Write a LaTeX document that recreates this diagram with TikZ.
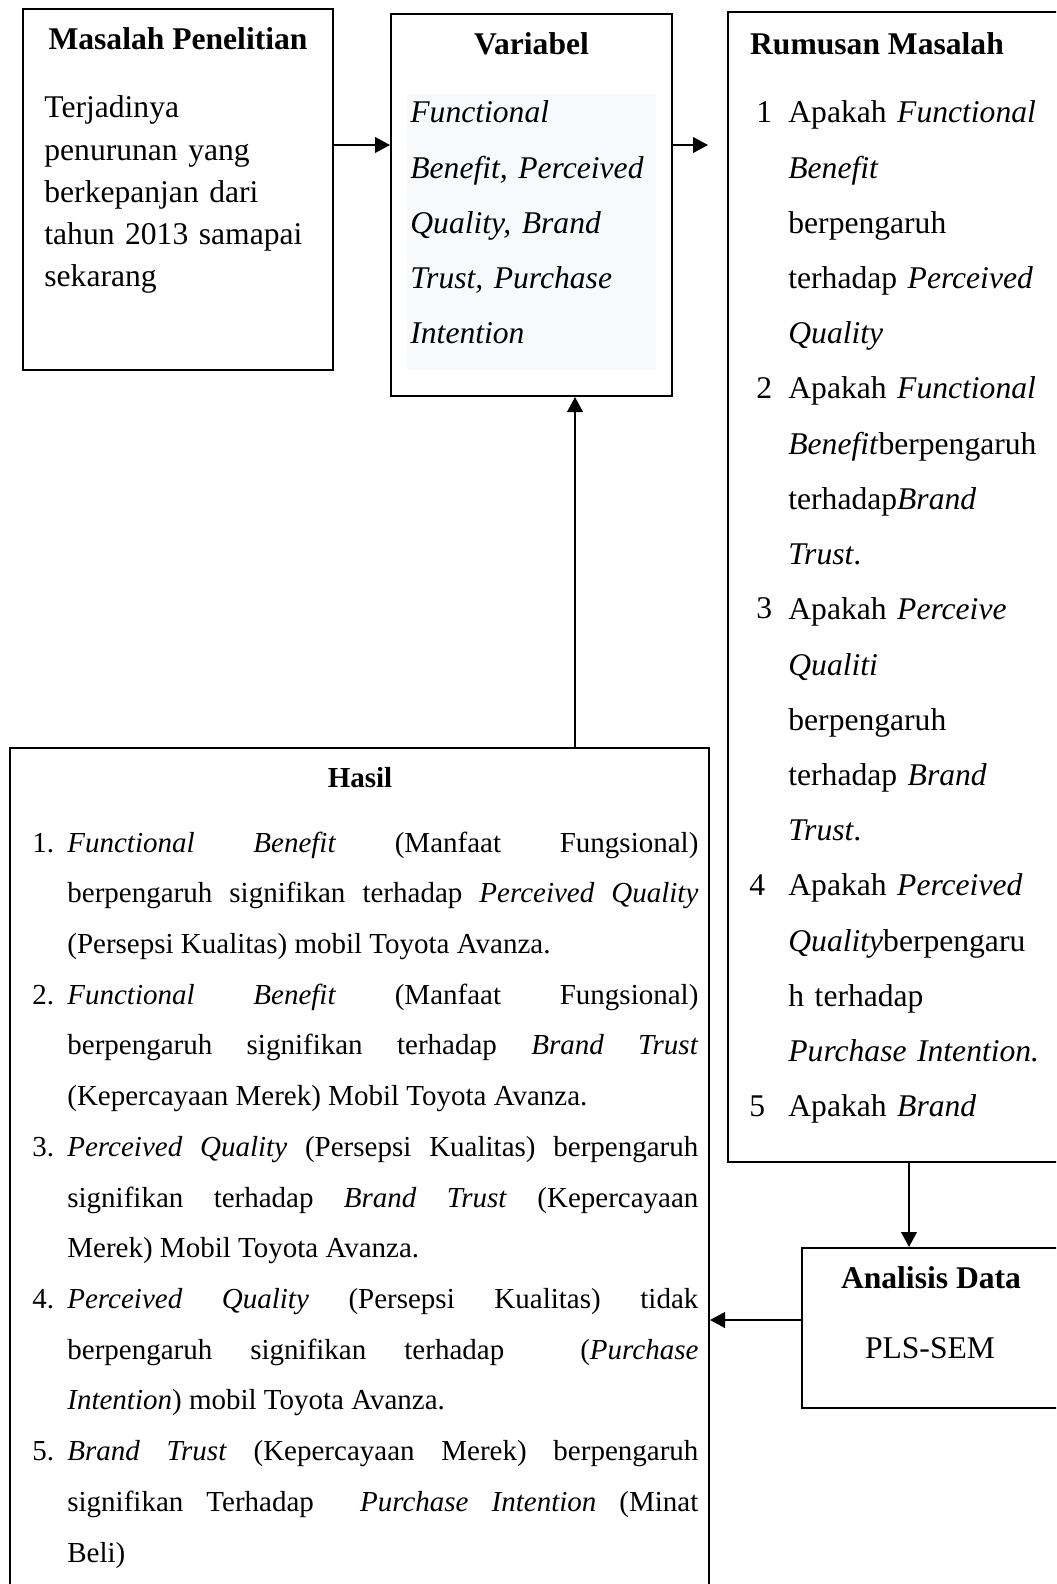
\documentclass[tikz,border=0pt]{standalone}
\usepackage{fontspec}
\setmainfont{Liberation Serif}
\usetikzlibrary{arrows.meta,fit}
\definecolor{varbg}{HTML}{F8F9FA}
\newcommand{\hasilitem}[2]{\noindent\hangindent=17.5pt\hangafter=1\makebox[17.5pt][l]{#1}#2\par}

\begin{document}
\begin{tikzpicture}[x=0.5pt,y=-0.5pt,>={Triangle[length=7.5pt,width=7.8pt]},
  box/.style={draw,line width=1pt,inner sep=0pt},
  head/.style={font=\fontsize{15.8}{19}\selectfont\bfseries,inner sep=0pt,anchor=base},
  body/.style={inner sep=0pt,anchor=base west,align=left,text width=140pt,
               font=\fontsize{15.8}{27.6}\selectfont},
  link/.style={->,line width=1pt}]
  \clip (0,0) rectangle (1056,1584);
  \fill[varbg] (407,94) rectangle (656,370);

  \node[box,fit={(23,9) (333,370)}] (masalah) {};
  \node[box,fit={(391,14) (672,396)}] (variabel) {};
  \node[box,fit={(728,12) (1064,1162)}] (rumusan) {};
  \node[box,fit={(10,748) (709,1600)}] (hasil) {};
  \node[box,fit={(802,1248) (1064,1408)}] (analisis) {};

  \node[head] (masalahT) at (178,50) {Masalah Penelitian};
  \node[body,font=\fontsize{15.8}{21.1}\selectfont] (masalahB) at (44,118)
    {Terjadinya\\penurunan yang\\berkepanjan dari\\tahun 2013 samapai\\sekarang};

  \node[head] (variabelT) at (531.5,55) {Variabel};
  \node[body,font=\fontsize{15.8}{27.6}\selectfont\itshape] (variabelB) at (410,123)
    {Functional\\Benefit, Perceived\\Quality, Brand\\Trust, Purchase\\Intention};

  \node[head] (rumusanT) at (877,55) {Rumusan Masalah};
  \node[body] (rumusanB) at (788,123)
    {Apakah \textit{Functional}\\\textit{Benefit}\\berpengaruh\\terhadap \textit{Perceived}\\\textit{Quality}\\
     Apakah \textit{Functional}\\\textit{Benefit}berpengaruh\\terhadap\textit{Brand}\\\textit{Trust}.\\
     Apakah \textit{Perceive}\\\textit{Qualiti}\\berpengaruh\\terhadap \textit{Brand}\\\textit{Trust}.\\
     Apakah \textit{Perceived}\\\textit{Quality}berpengaru\\h terhadap\\\textit{Purchase Intention.}\\
     Apakah \textit{Brand}};
  \node[body,text width=12pt] (r1) at (756,123) {1};
  \node[body,text width=12pt] (r2) at (756,398.2) {2};
  \node[body,text width=12pt] (r3) at (756,618.8) {3};
  \node[body,text width=12pt] (r4) at (749,895.6) {4};
  \node[body,text width=12pt] (r5) at (749,1116.4) {5};

  \node[head,font=\fontsize{14.5}{18}\selectfont\bfseries] (hasilT) at (360,787) {Hasil};
  \node[inner sep=0pt,anchor=base west,align=justify,text width=333pt,
        font=\fontsize{14.5}{25.36}\selectfont] (hasilB) at (32,852)
    {\hasilitem{1.}{\textit{Functional Benefit} (Manfaat Fungsional)\linebreak
       berpengaruh signifikan terhadap \textit{Perceived Quality}\linebreak
       (Persepsi Kualitas) mobil Toyota Avanza.}
     \hasilitem{2.}{\textit{Functional Benefit} (Manfaat Fungsional)\linebreak
       berpengaruh signifikan terhadap \textit{Brand Trust}\linebreak
       (Kepercayaan Merek) Mobil Toyota Avanza.}
     \hasilitem{3.}{\textit{Perceived Quality} (Persepsi Kualitas) berpengaruh\linebreak
       signifikan terhadap \textit{Brand Trust} (Kepercayaan\linebreak
       Merek) Mobil Toyota Avanza.}
     \hasilitem{4.}{\textit{Perceived Quality} (Persepsi Kualitas) tidak\linebreak
       berpengaruh signifikan terhadap\ \ (\textit{Purchase}\linebreak
       \textit{Intention}) mobil Toyota Avanza.}
     \hasilitem{5.}{\textit{Brand Trust} (Kepercayaan Merek) berpengaruh\linebreak
       signifikan Terhadap\ \ \textit{Purchase Intention} (Minat\linebreak
       Beli)}};

  \node[head] (analisisT) at (931,1288) {Analisis Data};
  \node[head,font=\fontsize{15.8}{19}\selectfont] (analisisB) at (930,1358) {PLS-SEM};

  \coordinate (rowA) at (0,145);
  \coordinate (vtip) at (708,145);
  \coordinate (colA) at (575,0);
  \coordinate (colB) at (909,0);
  \coordinate (rowB) at (0,1320);
  \draw[link] (masalah.east |- rowA) -- (variabel.west |- rowA);
  \draw[link] (variabel.east |- rowA) -- (vtip);
  \draw[link] (hasil.north -| colA) -- (variabel.south -| colA);
  \draw[link] (rumusan.south -| colB) -- (analisis.north -| colB);
  \draw[link] (analisis.west |- rowB) -- (hasil.east |- rowB);
\end{tikzpicture}
\end{document}
